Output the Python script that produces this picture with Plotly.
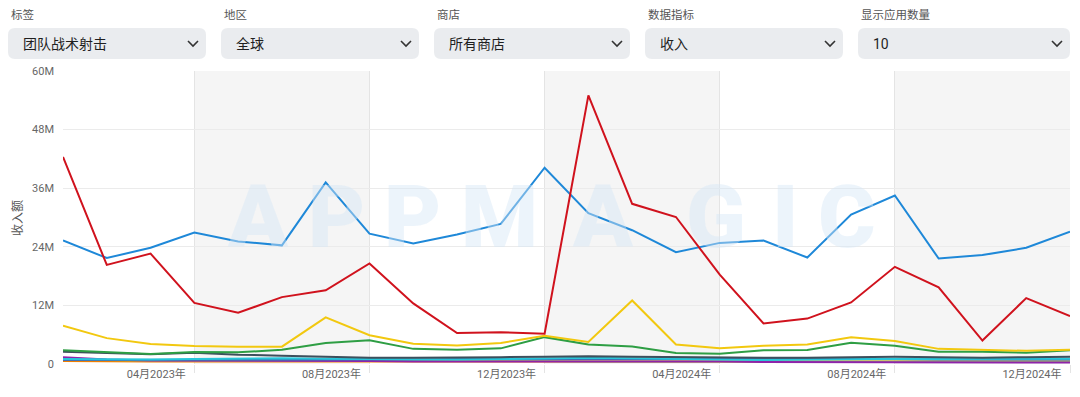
import plotly.graph_objects as go

# ---------------- data ----------------
months = [f"{y}-{m:02d}" for y in (2023, 2024) for m in range(1, 13)]
tick_months = ["2023-04", "2023-08", "2023-12", "2024-04", "2024-08", "2024-12"]
tick_labels = ["04月2023年", "08月2023年", "12月2023年", "04月2024年", "08月2024年", "12月2024年"]

y_ticks = [0, 12, 24, 36, 48, 60]
y_tick_labels = ["0", "12M", "24M", "36M", "48M", "60M"]

app_blue = [25.3, 21.7, 23.8, 26.9, 25.1, 24.3, 37.2, 26.7, 24.7, 26.5, 28.7, 40.2,
            30.9, 27.4, 22.9, 24.8, 25.3, 21.8, 30.6, 34.5, 21.6, 22.3, 23.8, 27.1]
app_red = [42.4, 20.3, 22.6, 12.5, 10.5, 13.7, 15.1, 20.6, 12.4, 6.35, 6.5, 6.2,
           55.0, 32.8, 30.1, 18.3, 8.3, 9.3, 12.6, 19.9, 15.7, 4.8, 13.5, 9.8]
app_yellow = [7.85, 5.3, 4.1, 3.7, 3.55, 3.55, 9.55, 5.9, 4.15, 3.8, 4.3, 5.8,
              4.5, 13.0, 4.0, 3.2, 3.75, 4.0, 5.5, 4.7, 3.1, 2.9, 2.7, 2.9]
app_green = [2.8, 2.4, 2.05, 2.45, 2.4, 2.9, 4.3, 4.85, 3.1, 2.9, 3.2, 5.5,
             4.0, 3.6, 2.25, 2.1, 2.8, 2.85, 4.35, 3.75, 2.5, 2.5, 2.3, 2.8]
app_slate = [2.5, 2.2, 2.0, 2.3, 1.9, 1.7, 1.5, 1.3, 1.3, 1.3, 1.4, 1.5,
             1.6, 1.5, 1.4, 1.4, 1.3, 1.3, 1.4, 1.5, 1.4, 1.3, 1.4, 1.5]
app_cyan = [1.0, 0.9, 0.9, 1.0, 1.1, 1.2, 1.1, 1.0, 0.9, 0.9, 1.0, 1.2,
            1.3, 1.2, 1.0, 0.9, 0.8, 0.9, 1.0, 1.1, 1.0, 1.0, 1.1, 1.1]
app_steel = [0.8, 0.8, 0.8, 0.9, 0.9, 0.9, 0.9, 0.9, 0.9, 1.0, 1.0, 1.1,
             1.1, 1.1, 1.0, 1.0, 1.0, 1.0, 1.0, 1.0, 0.9, 0.9, 0.9, 0.9]
app_purple = [1.4, 0.9, 0.7, 0.7, 0.7, 0.6, 0.6, 0.6, 0.5, 0.5, 0.6, 0.6,
              0.6, 0.6, 0.5, 0.5, 0.4, 0.4, 0.4, 0.4, 0.4, 0.3, 0.3, 0.3]
app_orange = [0.6, 0.5, 0.5, 0.5, 0.5, 0.5, 0.4, 0.4, 0.4, 0.4, 0.5, 0.5,
              0.5, 0.5, 0.5, 0.5, 0.5, 0.5, 0.5, 0.5, 0.5, 0.5, 0.5, 0.5]
app_lime = [1.2, 0.8, 0.7, 0.7, 0.6, 0.6, 0.6, 0.6, 0.6, 0.6, 0.6, 0.6,
            0.5, 0.5, 0.5, 0.5, 0.5, 0.5, 0.5, 0.5, 0.5, 0.5, 0.5, 0.5]

series = [
    ("App 10", app_orange, "#ef7d00"),
    ("App 9", app_lime, "#9ccc65"),
    ("App 8", app_purple, "#8e24aa"),
    ("App 7", app_steel, "#3f6fb5"),
    ("App 6", app_cyan, "#26c6da"),
    ("App 5", app_slate, "#3d4f5c"),
    ("App 4", app_green, "#2e9e44"),
    ("App 3", app_yellow, "#f2c80f"),
    ("App 1", app_blue, "#1e88d8"),
    ("App 2", app_red, "#d0121d"),
]

filters = [
    ("标签", "团队战术射击", 8, 206),
    ("地区", "全球", 221, 419),
    ("商店", "所有商店", 434, 630),
    ("数据指标", "收入", 645, 843),
    ("显示应用数量", "10", 858, 1070),
]

# ---------------- figure ----------------
OFF = 8  # page body margin of the rendered html
W, H = 1080 - OFF, 397 - OFF
L, R, T = 63 - OFF, 10, 71 - OFF
B = H - (364 - OFF)
PW, PH = W - L - R, H - T - B
FONT = "Roboto, Noto Sans CJK SC, sans-serif"


def px(x):  # page pixel -> paper
    return (x - OFF - L) / PW


def py(y):
    return (H - B - (y - OFF)) / PH


fig = go.Figure()
for name, vals, color in series:
    fig.add_trace(go.Scatter(x=months, y=vals, mode="lines", name=name,
                             line=dict(color=color, width=2), hoverinfo="x+y+name"))

shapes = []
annotations = []

# alternating shaded bands between tick gridlines
idx = [months.index(m) for m in tick_months]
bands = [(idx[0], idx[1]), (idx[2], idx[3]), (idx[4], idx[5])]
for a, b in bands:
    shapes.append(dict(type="rect", xref="x", yref="paper", x0=a, x1=b, y0=0, y1=1,
                       fillcolor="#f5f5f5", line=dict(width=0), layer="below"))

# watermark letters
wm_letters = list("APPMAGIC")
wm_x = [258, 336, 412, 499, 603, 716, 785, 847]
for ch, xx in zip(wm_letters, wm_x):
    annotations.append(dict(text=ch, x=px(xx), y=py(216), xref="paper", yref="paper",
                            showarrow=False, xanchor="center", yanchor="middle",
                            font=dict(family="Roboto, sans-serif", size=88,
                                      color="rgba(212,230,246,0.45)", weight=900)))

# dropdown filters
for label, value, x0, x1 in filters:
    annotations.append(dict(text=label, x=px(x0 + 1), y=py(15), xref="paper", yref="paper",
                            showarrow=False, xanchor="left", yanchor="middle",
                            font=dict(family=FONT, size=11.5, color="#555555")))
    y0b, y1b, r = 28, 59, 7
    path = (f"M {px(x0 + r)} {py(y0b)} L {px(x1 - r)} {py(y0b)} "
            f"Q {px(x1)} {py(y0b)} {px(x1)} {py(y0b + r)} "
            f"L {px(x1)} {py(y1b - r)} Q {px(x1)} {py(y1b)} {px(x1 - r)} {py(y1b)} "
            f"L {px(x0 + r)} {py(y1b)} Q {px(x0)} {py(y1b)} {px(x0)} {py(y1b - r)} "
            f"L {px(x0)} {py(y0b + r)} Q {px(x0)} {py(y0b)} {px(x0 + r)} {py(y0b)} Z")
    shapes.append(dict(type="path", xref="paper", yref="paper", path=path,
                       fillcolor="#eaecef", line=dict(width=0)))
    annotations.append(dict(text=value, x=px(x0 + 13), y=py(43.5), xref="paper", yref="paper",
                            showarrow=False, xanchor="left", yanchor="middle",
                            font=dict(family=FONT, size=14, color="#1f1f1f")))
    cx = x1 - 13
    chev = (f"M {px(cx - 5)} {py(41)} L {px(cx)} {py(46)} L {px(cx + 5)} {py(41)}")
    shapes.append(dict(type="path", xref="paper", yref="paper", path=chev,
                       line=dict(color="#333333", width=1.6)))

# y axis title
annotations.append(dict(text="收入额", x=px(18), y=py(218), xref="paper", yref="paper",
                        showarrow=False, textangle=-90, xanchor="center", yanchor="middle",
                        font=dict(family=FONT, size=12, color="#555555")))

fig.update_layout(
    width=W, height=H,
    margin=dict(l=L, r=R, t=T, b=B),
    paper_bgcolor="white", plot_bgcolor="white",
    showlegend=False,
    shapes=shapes, annotations=annotations,
    font=dict(family=FONT, size=11, color="#666666"),
    xaxis=dict(type="category", categoryorder="array", categoryarray=months,
               range=[0, len(months) - 1],
               tickmode="array", tickvals=tick_months, ticktext=tick_labels,
               showgrid=True, gridcolor="#e4e4e4", gridwidth=1,
               ticks="outside", ticklen=8, tickcolor="#e4e4e4",
               ticklabelposition="outside left", ticklabelshift=-8,
               tickfont=dict(family=FONT, size=11, color="#666666"),
               showline=False, zeroline=False),
    yaxis=dict(range=[0, 60], tickmode="array", tickvals=y_ticks, ticktext=y_tick_labels,
               showgrid=True, gridcolor="#ebebeb", gridwidth=1, zeroline=False,
               ticks="", ticklabelstandoff=8,
               tickfont=dict(family=FONT, size=11, color="#666666"),
               showline=False),
)

fig.write_html("out.html")
